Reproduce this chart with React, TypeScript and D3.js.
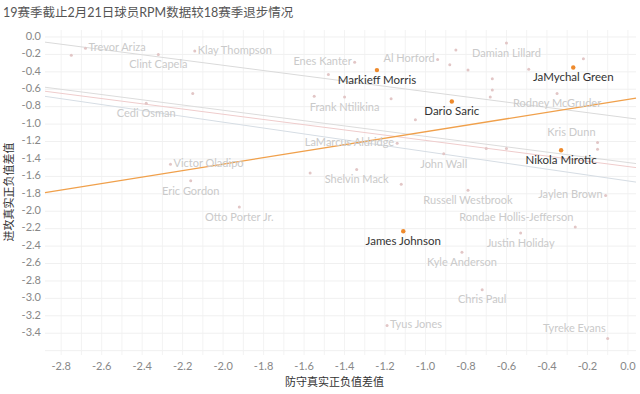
import React from 'react';
import * as d3 from 'd3';

// 防守 / 进攻 RPM 差值 (19赛季 - 18赛季)
const players = [
  '', 'Trevor Ariza', 'Clint Capela', 'Klay Thompson', '', 'Cedi Osman', '', 'Frank Ntilikina',
  'Enes Kanter', '', 'Markieff Morris', 'Al Horford', '', '', '', 'Damian Lillard',
  '', '', '', '', 'JaMychal Green', '', 'Rodney McGruder', '', 'Dario Saric', '',
  'Victor Oladipo', 'Eric Gordon', 'Otto Porter Jr.', '', 'LaMarcus Aldridge', 'John Wall',
  'Shelvin Mack', '', 'Russell Westbrook', '', '', 'Nikola Mirotic', 'Kris Dunn', '',
  'Jaylen Brown', 'Rondae Hollis-Jefferson', 'Justin Holiday', 'James Johnson',
  'Kyle Anderson', 'Chris Paul', 'Tyus Jones', 'Tyreke Evans',
];
const defDiff = [
  -2.75, -2.68, -2.32, -2.14, -2.15, -2.38, -1.55, -1.40,
  -1.35, -1.48, -1.24, -0.94, -0.85, -0.88, -0.79, -0.60,
  -0.67, -0.67, -0.68, -0.49, -0.27, -0.22, -0.35, -1.17, -0.87, -1.05,
  -2.26, -2.16, -1.92, -1.57, -1.14, -0.91,
  -1.34, -1.12, -0.79, -0.70, -0.60, -0.33, -0.15, -0.15,
  -0.11, -0.26, -0.53, -1.11,
  -0.82, -0.72, -1.19, -0.10,
];
const offDiff = [
  -0.21, -0.13, -0.20, -0.16, -0.65, -0.76, -0.68, -0.69,
  -0.29, -0.43, -0.38, -0.26, -0.15, -0.32, -0.38, -0.07,
  -0.48, -0.61, -0.69, -0.37, -0.35, -0.25, -0.65, -0.71, -0.74, -0.95,
  -1.46, -1.65, -1.95, -1.56, -1.22, -1.34,
  -1.52, -1.69, -1.76, -1.28, -1.28, -1.30, -1.21, -1.29,
  -1.82, -2.18, -2.25, -2.23,
  -2.47, -2.90, -3.31, -3.46,
];
const highlighted = ['Markieff Morris', 'Dario Saric', 'JaMychal Green', 'Nikola Mirotic', 'James Johnson'];

// label placement: r right, l left, b below, tl above-left
const labelSide: Record<string, string> = {
  'Trevor Ariza': 'r', 'Klay Thompson': 'r', 'Victor Oladipo': 'r', 'Tyus Jones': 'r',
  'Enes Kanter': 'l', 'Al Horford': 'l', 'LaMarcus Aldridge': 'l', 'Jaylen Brown': 'l',
  'Kris Dunn': 'tl', 'Rondae Hollis-Jefferson': 'tl', 'Tyreke Evans': 'tl',
};

// other trend lines: [intercept at x=0, slope]
const trendLines = [
  { b: -0.929, m: -0.302, color: '#dadada' },
  { b: -1.441, m: -0.300, color: '#dcdcdc' },
  { b: -1.487, m: -0.300, color: '#efcccc' },
  { b: -1.652, m: -0.337, color: '#d6dde4' },
];

const xTicks = [-2.8, -2.6, -2.4, -2.2, -2.0, -1.8, -1.6, -1.4, -1.2, -1.0, -0.8, -0.6, -0.4, -0.2, 0.0];
const yTicks = [0.0, -0.2, -0.4, -0.6, -0.8, -1.0, -1.2, -1.4, -1.6, -1.8, -2.0, -2.2, -2.4, -2.6, -2.8, -3.0, -3.2, -3.4];

const W = 640, H = 394;
const font = 'Lato, "Open Sans", "Noto Sans CJK SC", sans-serif';

export default function App() {
  const x = d3.scaleLinear().domain([-2.88, 0.04]).range([45, 636]);
  const y = d3.scaleLinear().domain([0.08, -3.65]).range([30, 355]);
  const [x0, x1] = x.domain();

  const data = players.map((name, i) => ({
    name, dx: defDiff[i], dy: offDiff[i], hi: highlighted.includes(name),
  }));

  // least squares fit of the highlighted players
  const hiPts = data.filter(d => d.hi);
  const mx = d3.mean(hiPts, d => d.dx)!, my = d3.mean(hiPts, d => d.dy)!;
  const slope = d3.sum(hiPts, d => (d.dx - mx) * (d.dy - my)) / d3.sum(hiPts, d => (d.dx - mx) ** 2);
  const orange = { b: my - slope * mx, m: slope };

  const vGrid = d3.range(-28, 1).map(v => v / 10);
  const hGrid = d3.range(0, 37, 2).map(v => -v / 10);

  const label = (d: typeof data[0]) => {
    if (!d.name) return null;
    const side = labelSide[d.name] || 'b';
    const px = x(d.dx), py = y(d.dy);
    let tx = px, ty = py + 11, anchor = 'middle';
    if (side === 'r') { tx = px + 3; ty = py; anchor = 'start'; }
    if (side === 'l') { tx = px - 3; ty = py; anchor = 'end'; }
    if (side === 'tl') { tx = px - 2; ty = py - 9; anchor = 'end'; }
    return (
      <text key={'l' + d.name} x={tx} y={ty} textAnchor={anchor} dominantBaseline="middle"
        fontSize={d.hi ? 11.5 : 11} fill={d.hi ? '#333' : '#cacaca'}>{d.name}</text>
    );
  };

  return (
    <svg width={W} height={H} style={{ position: 'absolute', left: 0, top: 0, background: '#fff' }} fontFamily={font}>
      <text x={3} y={14} fontSize={12.5} fill="#555" dominantBaseline="middle">19赛季截止2月21日球员RPM数据较18赛季退步情况</text>

      <g>
        {vGrid.map(v => (
          <line key={'v' + v} x1={x(v)} x2={x(v)} y1={y.range()[0]} y2={y.range()[1]} stroke="#f3f3f3" />
        ))}
        {hGrid.map(v => (
          <line key={'h' + v} x1={x(x0)} x2={x(x1)} y1={y(v)} y2={y(v)} stroke="#f0f0f0" />
        ))}
      </g>

      {yTicks.map(t => (
        <text key={'yt' + t} x={41} y={y(t)} textAnchor="end" dominantBaseline="middle" fontSize={11} fill="#888">
          {t.toFixed(1)}
        </text>
      ))}
      {xTicks.map(t => (
        <text key={'xt' + t} x={x(t)} y={367} textAnchor="middle" dominantBaseline="middle" fontSize={11} fill="#888">
          {t.toFixed(1)}
        </text>
      ))}

      <text x={x(-1.45)} y={383} textAnchor="middle" dominantBaseline="middle" fontSize={11} fill="#333"
        fontFamily='"Noto Sans CJK SC", serif'>防守真实正负值差值</text>
      <text transform={`translate(10,${y(-1.78)}) rotate(-90)`} textAnchor="middle" dominantBaseline="middle"
        fontSize={11} fill="#333" fontFamily='"Noto Sans CJK SC", serif'>进攻真实正负值差值</text>

      {trendLines.map((l, i) => (
        <line key={'tl' + i} x1={x(x0)} x2={x(x1)} y1={y(l.b + l.m * x0)} y2={y(l.b + l.m * x1)}
          stroke={l.color} strokeWidth={1} />
      ))}
      <line x1={x(x0)} x2={x(x1)} y1={y(orange.b + orange.m * x0)} y2={y(orange.b + orange.m * x1)}
        stroke="#f0a04b" strokeWidth={1.3} />

      {data.filter(d => !d.hi).map((d, i) => (
        <circle key={'c' + i} cx={x(d.dx)} cy={y(d.dy)} r={1.5} fill="#e2c6c6" />
      ))}
      {data.filter(d => d.hi).map((d, i) => (
        <circle key={'h' + i} cx={x(d.dx)} cy={y(d.dy)} r={2.2} fill="#ee8a2c" />
      ))}
      {data.filter(d => !d.hi).map(label)}
      {data.filter(d => d.hi).map(label)}
    </svg>
  );
}
